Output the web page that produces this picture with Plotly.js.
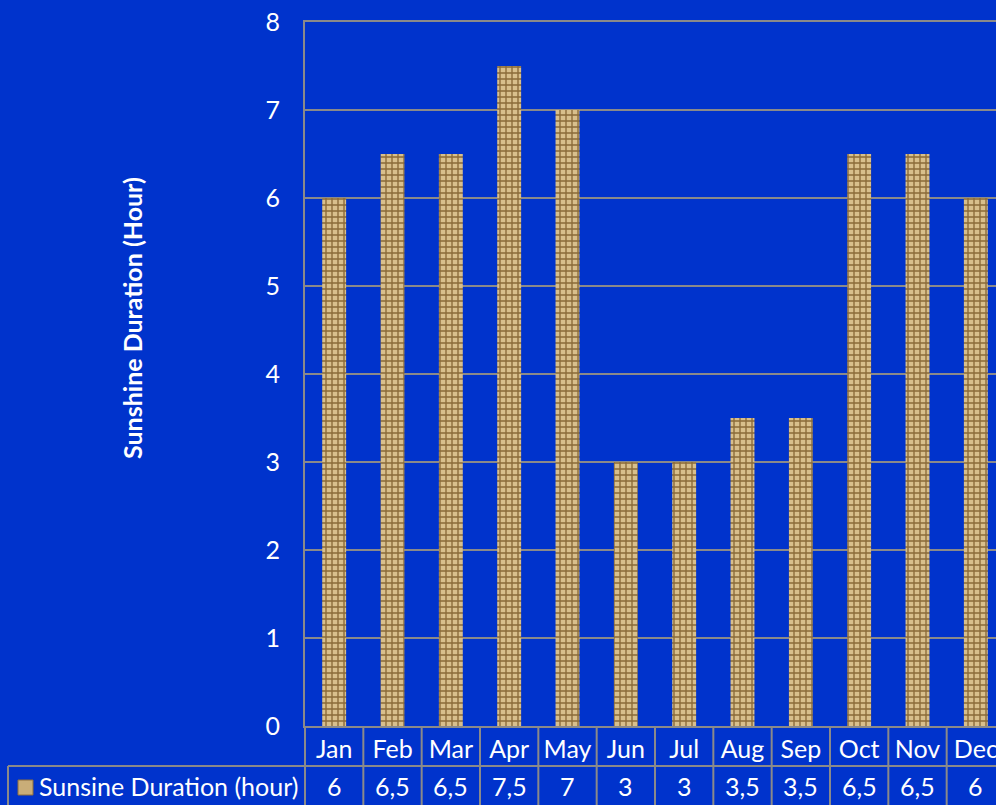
<!DOCTYPE html>
<html>
<head>
<meta charset="utf-8">
<script src="https://cdn.plot.ly/plotly-3.0.1.min.js"></script>
<style>
html,body{margin:0;padding:0;background:#0033CC;overflow:hidden;width:996px;height:805px;}
#chart{width:1010px;height:805px;}
</style>
</head>
<body>
<div id="chart"></div>
<script>
const months = ['Jan','Feb','Mar','Apr','May','Jun','Jul','Aug','Sep','Oct','Nov','Dec'];
const sunshine = [6, 6.5, 6.5, 7.5, 7, 3, 3, 3.5, 3.5, 6.5, 6.5, 6];
const seriesName = 'Sunsine Duration (hour)';
const yTitle = 'Sunshine Duration (Hour)';

const W = 1010, H = 805, ML = 305, MR = 5, MT = 22, MB = 79;
const PW = W - ML - MR, PH = H - MT - MB;
const px = x => (x - ML) / PW;
const py = y => (H - MB - y) / PH;

const BLUE = '#0033CC', GRID = '#8A8A8A', TAN = '#C9AD78';
const FONT = 'Lato, "Open Sans", sans-serif';
const FS = 25;

const shapes = [];
const annotations = [];
// table row separator
shapes.push({type:'line', xref:'paper', yref:'paper', x0:px(8), x1:1.2, y0:py(766), y1:py(766), line:{color:GRID, width:2}});
// table left border
shapes.push({type:'line', xref:'paper', yref:'paper', x0:px(8), x1:px(8), y0:py(766), y1:py(810), line:{color:GRID, width:2}});
// left axis extension
shapes.push({type:'line', xref:'paper', yref:'paper', x0:0, x1:0, y0:0, y1:py(810), line:{color:GRID, width:2}});
// column separators
for (let i = 0; i < months.length; i++) {
  shapes.push({type:'line', xref:'x', yref:'paper', x0:i+0.5, x1:i+0.5, y0:0, y1:py(810), line:{color:GRID, width:2}});
  annotations.push({xref:'x', yref:'paper', x:i, y:py(786), text:String(sunshine[i]).replace('.', ','),
    showarrow:false, font:{family:FONT, size:FS, color:'white'}, xanchor:'center', yanchor:'middle'});
}
// legend key
shapes.push({type:'rect', xref:'paper', yref:'paper', x0:px(18), x1:px(33), y0:py(795), y1:py(780), fillcolor:TAN, line:{color:'#8E6E3C', width:1}});
annotations.push({xref:'paper', yref:'paper', x:px(37), y:py(786), text:seriesName, showarrow:false,
  font:{family:FONT, size:FS, color:'white'}, xanchor:'left', yanchor:'middle'});
// y title
annotations.push({xref:'paper', yref:'paper', x:px(132), y:py(318), text:'<b>'+yTitle+'</b>', textangle:-90, showarrow:false,
  font:{family:FONT, size:25, color:'white'}, xanchor:'center', yanchor:'middle'});

const trace = {
  type:'bar', x:months, y:sunshine, name:seriesName,
  marker:{color:TAN, line:{width:0},
    pattern:{shape:'+', fgcolor:'#8A6A38', bgcolor:'#D8BF8C', size:6, solidity:0.4, fillmode:'replace'}},
  hoverinfo:'none'
};

const layout = {
  width:W, height:H,
  margin:{l:ML, r:MR, t:MT, b:MB, pad:0},
  paper_bgcolor:BLUE, plot_bgcolor:BLUE,
  showlegend:false,
  bargap:0.59,
  font:{family:FONT, color:'white', size:FS},
  xaxis:{type:'category', range:[-0.5, 11.5], showline:true, mirror:true, linecolor:GRID, linewidth:2,
    showgrid:false, ticks:'', tickfont:{family:FONT, size:FS, color:'white'}, ticklabelstandoff:0, fixedrange:true},
  yaxis:{range:[0, 8], dtick:1, showline:true, mirror:true, linecolor:GRID, linewidth:2,
    showgrid:true, gridcolor:GRID, gridwidth:2, zeroline:false, ticks:'',
    tickfont:{family:FONT, size:FS, color:'white'}, ticklabelstandoff:18, fixedrange:true},
  shapes:shapes, annotations:annotations
};

Plotly.newPlot('chart', [trace], layout, {displayModeBar:false, staticPlot:true});
</script>
</body>
</html>
